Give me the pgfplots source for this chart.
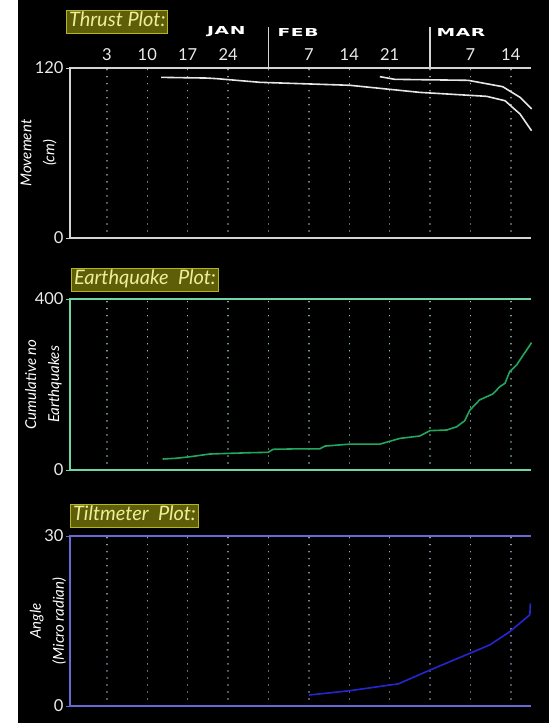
\documentclass[border=0pt]{standalone}
\usepackage{fontspec}
\setmainfont{Lato}
\newfontfamily\monthfont[FakeStretch=1.7,LetterSpace=6]{DejaVu Sans}
\usepackage{pgfplots}
\pgfplotsset{compat=1.18}
\definecolor{boxfill}{HTML}{5E5E08}
\definecolor{boxborder}{HTML}{B5B520}
\definecolor{boxtext}{HTML}{EEEE99}
\definecolor{thrustax}{HTML}{D4D4D4}
\definecolor{thrustgrid}{HTML}{C8C8C8}
\definecolor{thrustline}{HTML}{E6E6E6}
\definecolor{eqax}{HTML}{6FD6A6}
\definecolor{eqgrid}{HTML}{B8E8CC}
\definecolor{eqline}{HTML}{22A85E}
\definecolor{tiltax}{HTML}{6868D6}
\definecolor{tiltgrid}{HTML}{C8C8E8}
\definecolor{tiltline}{HTML}{2626D0}
\pgfplotsset{
  vplot/.style={
    scale only axis, width=461pt, xmin=-3.4, xmax=76.5,
    axis line style={draw=none},
    xtick={3,10,...,73}, xmajorgrids,
    major x tick style={draw=none},
    ytick pos=left, tick align=outside, major tick length=4pt,
    yticklabel style={font=\fontsize{16.5}{16.5}\selectfont, text=white!92!black, xshift=1pt},
    /pgf/number format/assume math mode=true,
    clip=false,
    ylabel style={at={(axis description cs:#1,0.5)}, anchor=center, align=center,
      font=\itshape\fontsize{15}{23}\selectfont, text=white},
  },
}
\tikzset{
  titlebox/.style={draw=boxborder, fill=boxfill, text=boxtext, line width=1pt,
    anchor=west, inner xsep=2.5pt, inner ysep=2.5pt, text height=13.5pt, text depth=4.5pt,
    font=\itshape\fontsize{20}{20}\selectfont},
  month/.style={text=white, font=\monthfont\bfseries\fontsize{11}{11}\selectfont},
}
\begin{document}
\begin{tikzpicture}
\fill[white] (0pt,0pt) rectangle (549pt,-723pt);
\fill[black] (18pt,0pt) rectangle (549pt,-723pt);

% ---------------- Thrust plot
\begin{axis}[vplot=-0.068, at={(70pt,-238pt)}, anchor=south west, height=170pt,
  ymin=0, ymax=120, ytick={0,120},
  grid style={draw=thrustgrid, line width=1.4pt, dash pattern=on 0.01pt off 7pt, line cap=round},
  major y tick style={draw=thrustax, line width=1pt},
  xticklabel pos=upper,
  xticklabels={3,10,17,24,,7,14,21,,7,14},
  xticklabel style={font=\fontsize{16.5}{16.5}\selectfont, text=white!92!black},
  ylabel={Movement\\(cm)}]
\addplot[thrustline, line width=1.6pt] coordinates {
(12.4,113.4) (20.3,112.9) (22,112.5) (29.5,109.9) (45.1,107.8) (57.2,102.8)
(68.8,100.0) (72.0,96.9) (74.6,87.5) (76.6,75.7)};
\addplot[thrustline, line width=1.6pt] coordinates {
(50.3,113.9) (52.9,112.0) (65.6,111.3) (71.6,106.8) (74.6,99.3) (76.6,91.1)};
\end{axis}
\draw[thrustax, line width=1.8pt] (531pt,-68pt) -- (70pt,-68pt) -- (70pt,-238pt) -- (531pt,-238pt);
\draw[thrustax, line width=1.5pt] (268.6pt,-27pt) -- (268.6pt,-68pt);
\draw[thrustax, line width=1.5pt] (430.2pt,-27pt) -- (430.2pt,-68pt);
\node[month, anchor=east] at (249pt,-32pt) {JAN};
\node[month, anchor=west] at (274pt,-32pt) {FEB};
\node[month, anchor=west] at (433pt,-32pt) {MAR};
\node[titlebox] at (66pt,-21.5pt) {Thrust Plot:};

% ---------------- Earthquake plot
\begin{axis}[vplot=-0.058, at={(70pt,-470pt)}, anchor=south west, height=171pt,
  ymin=0, ymax=400, ytick={0,400},
  grid style={draw=eqgrid, line width=1.4pt, dash pattern=on 0.01pt off 7pt, line cap=round},
  major y tick style={draw=eqax, line width=1pt},
  xticklabels={},
  ylabel={Cumulative no\\Earthquakes}]
\addplot[eqline, line width=1.6pt] coordinates {
(12.65,25.7) (15,27.5) (17.4,31) (20.8,37.4) (24.3,39) (28,40.5) (30.95,41.4) (31.8,48.4)
(36,49.5) (39.9,49.5) (40.8,56) (45.1,60.5) (50.3,60.5) (53.8,74) (57.2,79.5)
(59.0,92) (61.9,93.6) (63.6,101) (65.0,115) (65.9,140) (67.6,164) (69.9,178)
(71.1,195) (72.0,203) (72.8,230) (74.0,245.6) (76.6,298)};
\end{axis}
\draw[eqax, line width=1.8pt] (531pt,-299pt) -- (70pt,-299pt) -- (70pt,-470pt) -- (531pt,-470pt);
\node[titlebox] at (71pt,-280pt) {Earthquake\ \ Plot:};

% ---------------- Tiltmeter plot
\begin{axis}[vplot=-0.048, at={(70pt,-706pt)}, anchor=south west, height=170pt,
  ymin=0, ymax=30, ytick={0,30},
  grid style={draw=tiltgrid, line width=1.4pt, dash pattern=on 0.01pt off 7pt, line cap=round},
  major y tick style={draw=tiltax, line width=1pt},
  xticklabels={},
  ylabel={Angle\\(Micro radian)}]
\addplot[tiltline, line width=1.6pt] coordinates {
(38.05,1.94) (45.1,2.7) (52.0,3.7) (53.5,3.9) (59.0,6.35) (65.9,9.3) (69.4,10.8)
(72.8,13.1) (76.3,16.1) (76.4,18.1)};
\end{axis}
\draw[tiltax, line width=1.8pt] (531pt,-536pt) -- (70pt,-536pt) -- (70pt,-706pt) -- (531pt,-706pt);
\node[titlebox] at (70pt,-516pt) {Tiltmeter\ \ Plot:};

\pgfresetboundingbox
\path (0pt,0pt) rectangle (549pt,-723pt);
\end{tikzpicture}
\end{document}
